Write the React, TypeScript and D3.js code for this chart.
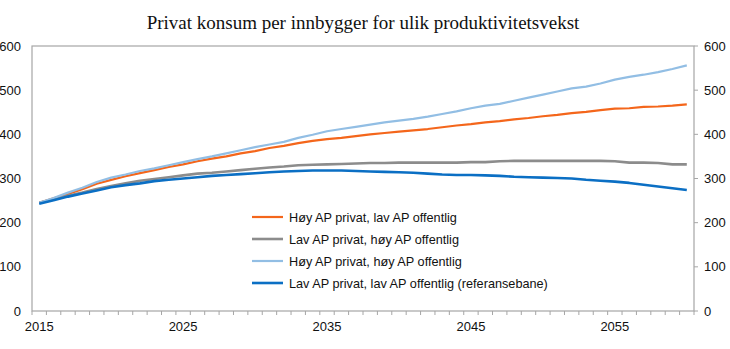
import React from "react";
import * as d3 from "d3";

const years: number[] = d3.range(2015, 2061);

const hoyPrivLavOff: number[] = [
  245, 255, 265, 276, 288, 297, 305, 312, 319, 326,
  332, 339, 345, 350, 357, 362, 369, 374, 380, 385,
  389, 392, 396, 400, 403, 406, 409, 412, 416, 420,
  423, 427, 430, 434, 437, 441, 444, 448, 451, 455,
  458, 459, 462, 463, 465, 468,
];
const lavPrivHoyOff: number[] = [
  245, 253, 261, 268, 276, 283, 289, 295, 299, 303,
  307, 311, 313, 316, 319, 322, 325, 327, 330, 331,
  332, 333, 334, 335, 335, 336, 336, 336, 336, 336,
  337, 337, 339, 340, 340, 340, 340, 340, 340, 340,
  339, 336, 336, 335, 332, 332,
];
const hoyPrivHoyOff: number[] = [
  245, 256, 268, 279, 292, 302, 309, 317, 323, 330,
  337, 344, 350, 357, 364, 371, 377, 383, 392, 399,
  407, 412, 417, 422, 427, 431, 435, 440, 446, 452,
  459, 465, 469, 476, 483, 490, 497, 504, 508, 515,
  524, 530, 535, 541, 548, 556,
];
const lavPrivLavOff: number[] = [
  243, 251, 259, 266, 273, 280, 285, 289, 294, 297,
  300, 303, 306, 308, 310, 312, 314, 316, 317, 318,
  318, 318, 317, 316, 315, 314, 313, 311, 309, 308,
  308, 307, 306, 304, 303, 302, 301, 300, 297, 295,
  293, 290, 286, 282, 278, 274,
];

const seriesNames: string[] = [
  "Høy AP privat, lav AP offentlig",
  "Lav AP privat, høy AP offentlig",
  "Høy AP privat, høy AP offentlig",
  "Lav AP privat, lav AP offentlig (referansebane)",
];
const seriesColors: string[] = ["#F4661B", "#8C8C8C", "#92BEE4", "#0B6FC4"];
const seriesWidths: number[] = [2.2, 2.6, 2.2, 2.6];
const seriesData: number[][] = [hoyPrivLavOff, lavPrivHoyOff, hoyPrivHoyOff, lavPrivLavOff];

const yTicks: number[] = [0, 100, 200, 300, 400, 500, 600];
const xLabelYears: number[] = [2015, 2025, 2035, 2045, 2055];
const title = "Privat konsum per innbygger for ulik produktivitetsvekst";

export default function App() {
  const W = 730, H = 349;
  const left = 32, right = 694, top = 46, bottom = 311;

  const xBand = d3.scaleBand<number>().domain(years).range([left, right]).padding(0);
  const xc = (yr: number) => (xBand(yr) as number) + xBand.bandwidth() / 2;
  const y = d3.scaleLinear().domain([0, 600]).range([bottom, top]);

  const line = d3
    .line<number>()
    .x((_, i) => xc(years[i]))
    .y((d) => y(d));

  const axisColor = "#A6A6A6";
  const font = "'Liberation Sans', Arial, sans-serif";

  const legendX = 252, legendY0 = 217, legendStep = 22;

  return (
    <svg
      width={W}
      height={H}
      style={{ position: "absolute", left: 0, top: 0, background: "#fff" }}
    >
      <text
        x={363}
        y={29}
        textAnchor="middle"
        fontFamily="'Liberation Serif', 'Times New Roman', serif"
        fontSize={19}
        fill="#111"
      >
        {title}
      </text>

      {/* plot frame */}
      <rect x={left} y={top} width={right - left} height={bottom - top} fill="none" stroke={axisColor} strokeWidth={1.2} />

      {/* bottom ticks at category boundaries */}
      {years.concat([2061]).map((yr, i) => {
        const x = left + i * xBand.bandwidth();
        return <line key={"bt" + i} x1={x} x2={x} y1={bottom} y2={bottom + 4} stroke={axisColor} strokeWidth={1} />;
      })}

      {/* right ticks */}
      {yTicks.map((t) => (
        <line key={"rt" + t} x1={right} x2={right + 4} y1={y(t)} y2={y(t)} stroke={axisColor} strokeWidth={1} />
      ))}

      {/* y labels */}
      {yTicks.map((t) => (
        <text key={"yl" + t} x={21} y={y(t) + 4.5} textAnchor="end" fontFamily={font} fontSize={13} fill="#111">
          {t}
        </text>
      ))}
      {yTicks.map((t) => (
        <text key={"yr" + t} x={704} y={y(t) + 4.5} textAnchor="start" fontFamily={font} fontSize={13} fill="#111">
          {t}
        </text>
      ))}

      {/* x labels */}
      {xLabelYears.map((yr) => (
        <text key={"xl" + yr} x={xc(yr)} y={331} textAnchor="middle" fontFamily={font} fontSize={13} fill="#111">
          {yr}
        </text>
      ))}

      {/* series */}
      {seriesData.map((d, i) => (
        <path
          key={"s" + i}
          d={line(d) as string}
          fill="none"
          stroke={seriesColors[i]}
          strokeWidth={seriesWidths[i]}
          strokeLinejoin="round"
        />
      ))}

      {/* legend */}
      {seriesNames.map((name, i) => {
        const ly = legendY0 + i * legendStep;
        return (
          <g key={"lg" + i}>
            <line x1={legendX} x2={legendX + 31} y1={ly} y2={ly} stroke={seriesColors[i]} strokeWidth={seriesWidths[i]} />
            <text x={legendX + 37} y={ly + 4.5} fontFamily={font} fontSize={12.7} fill="#111">
              {name}
            </text>
          </g>
        );
      })}
    </svg>
  );
}
